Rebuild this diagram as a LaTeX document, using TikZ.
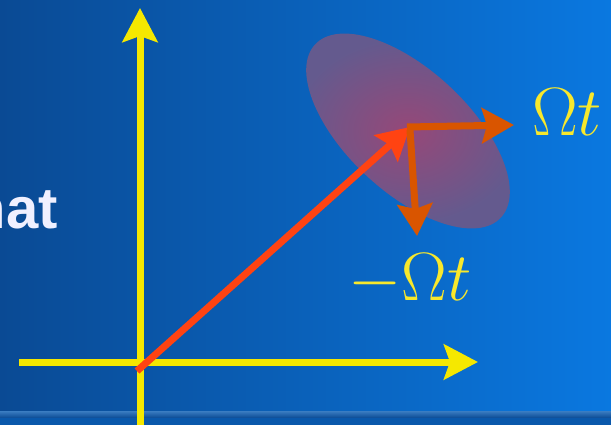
\documentclass[tikz,border=0pt]{standalone}
\usepackage{fontspec}
\setsansfont{Liberation Sans}
\usetikzlibrary{arrows.meta,positioning,calc}
\definecolor{bgleft}{HTML}{0A4A94}
\definecolor{bgright}{HTML}{0A78E0}
\definecolor{axis}{HTML}{F5E800}
\definecolor{vecred}{HTML}{FF4312}
\definecolor{vecorange}{HTML}{D95500}
\definecolor{blobin}{HTML}{964878}
\definecolor{blobout}{HTML}{645A8E}
\definecolor{lbl}{HTML}{F8E82C}
\definecolor{ink}{HTML}{F0F0FF}

\begin{document}
\begin{tikzpicture}[
  x=1pt, y=-1pt, >=Stealth,
  axis/.style={draw=axis, line width=7pt,
    -{Stealth[length=34pt, width=35pt, inset=6pt]}},
  vec/.style={draw=#1, line width=7pt,
    -{Stealth[length=32pt, width=35pt, inset=5pt]}},
  lab/.style={text=lbl, font=\Huge, scale=2.75, inner sep=0pt}]

% background
\useasboundingbox (0,0) rectangle (611,425);
\clip (0,0) rectangle (611,425);
\shade[left color=bgleft, right color=bgright] (0,0) rectangle (611,425);
\shade[top color=bgleft!60!bgright!80!white, bottom color=bgleft] (0,411) rectangle (611,418);
\fill[bgleft!70!bgright] (0,418) rectangle (611,425);

% title fragment
\node[anchor=base east, inner sep=0pt, text=ink,
  font=\sffamily\bfseries\fontsize{58}{58}\selectfont] (word) at (58,229) {nat};

% the blob
\coordinate (ctr) at (410,127);
\shade[inner color=blobin, outer color=blobout, rotate around={-43:(408,131)}]
  (408,131) ellipse [x radius=127, y radius=61];

% axes
\coordinate (origin) at (140,362);
\coordinate (xstart) at (19,362);
\coordinate (xend) at (478,362);
\coordinate (ybot) at (140,430);
\coordinate (yend) at (140,8);
\draw[axis] (xstart) -- (xend);
\draw[axis] (ybot) -- (yend);

% vectors
\coordinate (start) at (137,371);
\coordinate (xtip) at (514,125);
\coordinate (ytip) at (417,236);
\draw[vec=vecred, line cap=butt] (start) -- (ctr);
\draw[vec=vecorange] ([xshift=-3pt]ctr) -- (xtip);
\draw[vec=vecorange] ([yshift=-3pt]ctr) -- (ytip);

% labels
\node[lab] (lblx) at (567,112) {$\Omega t$};
\node[lab] (lbly) at (410,280) {$-\Omega t$};
\end{tikzpicture}
\end{document}
